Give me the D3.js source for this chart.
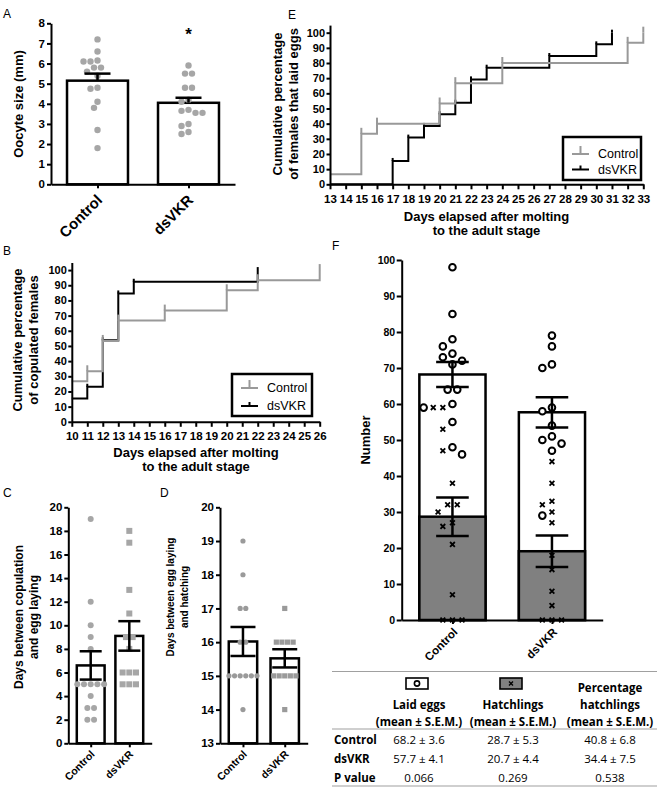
<!DOCTYPE html>
<html><head><meta charset="utf-8">
<script src="https://cdn.jsdelivr.net/npm/d3@7"></script>
<style>
body{margin:0;background:#fff;}
svg{display:block;}
</style></head><body>
<svg id="fig" width="660" height="788"></svg>
<script>
// ================= DATA =================
const groups = ["Control", "dsVKR"];

// Panel A – oocyte size (mm)
const oocyteTicks = [0, 1, 2, 3, 4, 5, 6, 7, 8];
const oocyteMean = [5.15, 4.05];
const oocyteSem = [0.35, 0.25];
const oocyteControl = [7.2, 6.6, 6.15, 6.1, 6.1, 5.8, 5.8, 5.6, 5.4, 4.8, 4.75, 4.1, 3.8, 2.7, 1.8];
const oocyteDsVKR = [5.9, 5.5, 5.5, 4.8, 4.8, 4.2, 4.1, 3.7, 3.65, 3.55, 3.55, 3.0, 2.9, 2.6, 2.5];
const oocyteSig = ["", "*"];

// Panel B – cumulative % of copulated females
const copDayTicks = [10, 11, 12, 13, 14, 15, 16, 17, 18, 19, 20, 21, 22, 23, 24, 25, 26];
const pctTicks = [0, 10, 20, 30, 40, 50, 60, 70, 80, 90, 100];
const copControlDays = [10, 11, 12, 13, 16, 20, 22, 26];
const copControlPct = [26.7, 33.3, 53.3, 66.7, 73.3, 86.7, 93.3, 100];
const copDsVKRDays = [10, 11, 12, 13, 14, 22];
const copDsVKRPct = [15.4, 23.1, 53.8, 84.6, 92.3, 100];

// Panel E – cumulative % of females that laid eggs
const layDayTicks = [13, 14, 15, 16, 17, 18, 19, 20, 21, 22, 23, 24, 25, 26, 27, 28, 29, 30, 31, 32, 33];
const layControlDays = [13, 15, 16, 20, 21, 24, 32, 33];
const layControlPct = [6.7, 33.3, 40, 53.3, 66.7, 80, 93.3, 100];
const layDsVKRDays = [13, 17, 18, 19, 20, 21, 22, 23, 27, 30, 31];
const layDsVKRPct = [0, 15.4, 30.8, 38.5, 46.2, 53.8, 69.2, 76.9, 84.6, 92.3, 100];

// Panel C – days between copulation and egg laying
const copLayTicks = [0, 2, 4, 6, 8, 10, 12, 14, 16, 18, 20];
const copLayMean = [6.6, 9.1];
const copLaySem = [1.2, 1.25];
const copLayControl = [19, 12, 10, 9, 8, 5, 5, 5, 5, 5, 4, 3, 3, 2, 2];
const copLayDsVKR = [18, 17, 13, 11, 9, 9, 8, 6, 6, 6, 5, 5, 5];

// Panel D – days between egg laying and hatching
const hatchDayTicks = [13, 14, 15, 16, 17, 18, 19, 20];
const hatchDayMean = [16.02, 15.52];
const hatchDaySem = [0.43, 0.27];
const hatchDayControl = [19, 18, 17, 17, 16, 16, 15, 15, 15, 15, 15, 15, 14];
const hatchDayDsVKR = [17, 16, 16, 16, 16, 15, 15, 15, 15, 15, 14];

// Panel F – laid eggs and hatchlings per female
const numberTicks = [0, 10, 20, 30, 40, 50, 60, 70, 80, 90, 100];
const eggsMean = [68.2, 57.7];
const eggsSem = [3.5, 4.2];
const hatchMean = [28.7, 19.1];
const hatchSem = [5.35, 4.35];
const eggsControl = [98, 85, 78, 76, 74, 73, 72, 71, 64, 64, 60, 59, 55, 48, 46];
const eggsDsVKR = [79, 76, 71, 70, 59, 58, 54, 51, 50, 49, 47, 29];
const hatchControl = [59, 59, 53, 47, 38, 32, 32, 30, 27, 26, 21, 7, 0, 0, 0];
const hatchDsVKR = [44, 38, 33, 32, 30, 27, 18, 14, 8, 4, 0, 0, 0];

// Table
const tableHeaders = [["Laid eggs", "(mean ± S.E.M.)"], ["Hatchlings", "(mean ± S.E.M.)"], ["Percentage", "hatchlings", "(mean ± S.E.M.)"]];
const tableRowLabels = ["Control", "dsVKR", "P value"];
const tableLaid = ["68.2 ± 3.6", "57.7 ± 4.1", "0.066"];
const tableHatch = ["28.7 ± 5.3", "20.7 ± 4.4", "0.269"];
const tablePct = ["40.8 ± 6.8", "34.4 ± 7.5", "0.538"];

// ================= DRAWING =================
const FONT = "'Liberation Sans', Arial, Helvetica, sans-serif";
const TFONT = "'Open Sans', 'Noto Sans', sans-serif";
const svg = d3.select("#fig").style("font-family", FONT);
const GREY_PT = "#a6a6a6";
const GREY_LINE = "#999999";
const fmtInt = d3.format("d");

function styleAxis(g, fs) {
  g.select(".domain").attr("stroke", "#000").attr("stroke-width", 2);
  g.selectAll(".tick line").attr("stroke", "#000").attr("stroke-width", 2);
  g.selectAll(".tick text").attr("fill", "#000")
    .style("font-size", fs + "px").style("font-weight", "bold").style("font-family", FONT);
}
function yAxis(x, y, ticks, fs, size = 4, pad = 2) {
  const g = svg.append("g").attr("transform", `translate(${x},0)`)
    .call(d3.axisLeft(y).tickValues(ticks).tickFormat(fmtInt).tickSize(size).tickSizeOuter(0).tickPadding(pad));
  styleAxis(g, fs); return g;
}
function xAxis(y0, x, ticks, fs, size = 5, pad = 6, showText = true) {
  const ax = d3.axisBottom(x).tickSize(size).tickSizeOuter(0).tickPadding(pad);
  if (ticks) ax.tickValues(ticks).tickFormat(fmtInt);
  if (!showText) ax.tickFormat(() => "");
  const g = svg.append("g").attr("transform", `translate(0,${y0})`).call(ax);
  styleAxis(g, fs); return g;
}
function yTitle(lines, xs, cy, fs) {
  lines.forEach((t, i) => svg.append("text")
    .attr("transform", `translate(${xs[i]},${cy}) rotate(-90)`)
    .attr("text-anchor", "middle").style("font-size", fs + "px").style("font-weight", "bold").text(t));
}
function xTitle(lines, cx, ys, fs) {
  lines.forEach((t, i) => svg.append("text").attr("x", cx).attr("y", ys[i])
    .attr("text-anchor", "middle").style("font-size", fs + "px").style("font-weight", "bold").text(t));
}
function letter(t, x, y) {
  svg.append("text").attr("x", x).attr("y", y).style("font-size", "12px").text(t);
}
function catLabels(x, y0, fs, dx, dy) {
  groups.forEach(gname => {
    const px = x(gname) + dx, py = y0 + dy;
    svg.append("text").attr("x", px).attr("y", py).attr("dy", "0.35em")
      .attr("transform", `rotate(-45,${px},${py})`).attr("text-anchor", "end")
      .style("font-size", fs + "px").style("font-weight", "bold").text(gname);
  });
}
// simple swarm: rows of equal values centred, shifted sideways to avoid collisions
function swarm(items, y, s) {
  const sorted = items.slice().sort((a, b) => b.v - a.v);
  const grouped = d3.groups(sorted, d => d.v);
  const placed = [];
  for (const [v, members] of grouped) {
    const n = members.length, py = y(v);
    let done = false;
    for (let k = 0; k < 60 && !done; k++) {
      const shifts = k === 0 ? [0] : [-k * s / 2, k * s / 2];
      for (const sh of shifts) {
        const xs = members.map((m, i) => (i - (n - 1) / 2) * s + sh);
        if (xs.every(px => placed.every(p => Math.hypot(p.x - px, p.y - py) >= s * 0.92))) {
          members.forEach((m, i) => { m.dx = xs[i]; m.py = py; placed.push({ x: xs[i], y: py }); });
          done = true; break;
        }
      }
    }
  }
  return sorted;
}
function errBar(g, cx, yTop, yBot, half, upperOnly) {
  g.append("line").attr("x1", cx).attr("x2", cx).attr("y1", yTop).attr("y2", yBot)
    .attr("stroke", "#000").attr("stroke-width", 2.5);
  g.append("line").attr("x1", cx - half).attr("x2", cx + half).attr("y1", yTop).attr("y2", yTop)
    .attr("stroke", "#000").attr("stroke-width", 2.5);
  if (!upperOnly) g.append("line").attr("x1", cx - half).attr("x2", cx + half).attr("y1", yBot).attr("y2", yBot)
    .attr("stroke", "#000").attr("stroke-width", 2.5);
}
function drawPoints(g, x, gname, pts, shape, r, color) {
  pts.forEach(p => {
    const cx = x(gname) + p.dx;
    if (shape === "circle") {
      g.append("circle").attr("cx", cx).attr("cy", p.py).attr("r", r).attr("fill", color);
    } else {
      g.append("rect").attr("x", cx - r).attr("y", p.py - r).attr("width", 2 * r).attr("height", 2 * r).attr("fill", color);
    }
  });
}
function barPanel(cfg) {
  const x = d3.scalePoint().domain(groups).range(cfg.xr).padding(cfg.pad);
  const y = d3.scaleLinear().domain(cfg.yd).range(cfg.yr);
  const w = x.step() * cfg.bw;
  const g = svg.append("g");
  groups.forEach((gn, i) => {
    g.append("rect").attr("x", x(gn) - w / 2).attr("width", w)
      .attr("y", y(cfg.means[i])).attr("height", y(cfg.yd[0]) - y(cfg.means[i]))
      .attr("fill", "#fff").attr("stroke", "#000").attr("stroke-width", 2.5);
  });
  groups.forEach((gn, i) => {
    const pts = swarm(cfg.pts[i].map(v => ({ v })), y, cfg.s);
    drawPoints(g, x, gn, pts, cfg.shapes[i], cfg.r, cfg.colors[i]);
  });
  groups.forEach((gn, i) => {
    errBar(g, x(gn), y(cfg.means[i] + cfg.sems[i]), cfg.upperOnly ? y(cfg.means[i]) : y(cfg.means[i] - cfg.sems[i]), cfg.cap, cfg.upperOnly);
  });
  yAxis(cfg.xr[0], y, cfg.ticks, cfg.tfs, 4, 2);
  xAxis(cfg.yr[0], x, null, cfg.tfs, 4, 2, false);
  catLabels(x, cfg.yr[0], cfg.lfs, cfg.ldx, cfg.ldy);
  return { x, y };
}

// ---------- Panel A ----------
letter("A", 3, 18);
const pA = barPanel({
  xr: [51, 235], pad: 0.511, yd: [0, 8], yr: [184.3, 23.3], bw: 0.67,
  means: oocyteMean, sems: oocyteSem, pts: [oocyteControl, oocyteDsVKR],
  shapes: ["circle", "circle"], colors: [GREY_PT, GREY_PT], r: 3.2, s: 7,
  cap: 13, upperOnly: true, ticks: oocyteTicks, tfs: 11.5, lfs: 15, ldx: 2, ldy: 13
});
groups.forEach((gn, i) => {
  if (!oocyteSig[i]) return;
  const top = d3.max(i === 0 ? oocyteControl : oocyteDsVKR);
  svg.append("text").attr("x", pA.x(gn)).attr("y", pA.y(top) - 26).attr("text-anchor", "middle")
    .style("font-size", "17px").style("font-weight", "bold").text(oocyteSig[i]);
});
yTitle(["Oocyte size (mm)"], [23], 104, 13);

// ---------- step-curve helper ----------
function stepCurve(g, x, y, days, pct, color, tick) {
  let d = `M${x(days[0])},${y(pct[0])}`;
  for (let i = 1; i < days.length; i++) d += `H${x(days[i])}V${y(pct[i])}`;
  g.append("path").attr("d", d).attr("fill", "none").attr("stroke", color)
    .attr("stroke-width", 2).attr("stroke-linejoin", "miter");
  for (let i = 1; i < days.length; i++) {
    g.append("line").attr("x1", x(days[i])).attr("x2", x(days[i]))
      .attr("y1", y(pct[i])).attr("y2", y(pct[i]) - tick)
      .attr("stroke", color).attr("stroke-width", 2);
  }
}
function legend(x0, y0, w, h, rows) {
  const g = svg.append("g");
  g.append("rect").attr("x", x0).attr("y", y0).attr("width", w).attr("height", h)
    .attr("fill", "#fff").attr("stroke", "#000").attr("stroke-width", 2.5);
  rows.forEach(r => {
    g.append("line").attr("x1", x0 + 9).attr("x2", x0 + 26).attr("y1", r.y).attr("y2", r.y)
      .attr("stroke", r.color).attr("stroke-width", 2);
    g.append("line").attr("x1", x0 + 17.5).attr("x2", x0 + 17.5).attr("y1", r.y).attr("y2", r.y - r.tick)
      .attr("stroke", r.color).attr("stroke-width", 2);
    g.append("text").attr("x", x0 + 35).attr("y", r.y + 4).style("font-size", "12.5px").text(r.label);
  });
}

// ---------- Panel E ----------
letter("E", 288, 19);
const xE = d3.scaleLinear().domain([13, 33]).range([330, 643.3]);
const yE = d3.scaleLinear().domain([0, 105]).range([184.3, 25.1]);
const gE = svg.append("g");
stepCurve(gE, xE, yE, layDsVKRDays, layDsVKRPct, "#000", 3);
stepCurve(gE, xE, yE, layControlDays, layControlPct, GREY_LINE, 6);
yAxis(330, yE, pctTicks, 11, 3.5, 1.5);
xAxis(184.3, xE, layDayTicks, 11.5, 5, 6);
legend(563, 137, 78, 43, [
  { y: 154, color: GREY_LINE, tick: 8, label: groups[0] },
  { y: 169.5, color: "#000", tick: 4, label: groups[1] }
]);
yTitle(["Cumulative percentage", "of females that laid eggs"], [281.5, 297.5], 104, 13);
xTitle(["Days elapsed after molting", "to the adult stage"], 486.5, [221, 235], 13);

// ---------- Panel B ----------
letter("B", 3, 255);
const xB = d3.scaleLinear().domain([10, 26]).range([71.8, 319.7]);
const yB = d3.scaleLinear().domain([0, 105]).range([421.8, 262.5]);
const gB = svg.append("g");
stepCurve(gB, xB, yB, copDsVKRDays, copDsVKRPct, "#000", 3);
stepCurve(gB, xB, yB, copControlDays, copControlPct, GREY_LINE, 6);
yAxis(71.8, yB, pctTicks, 11, 3.5, 1.5);
xAxis(421.8, xB, copDayTicks, 11.5, 5, 5);
legend(232, 374, 80, 42, [
  { y: 388, color: GREY_LINE, tick: 8, label: groups[0] },
  { y: 406, color: "#000", tick: 4, label: groups[1] }
]);
yTitle(["Cumulative percentage", "of copulated females"], [21.5, 37.5], 340, 13);
xTitle(["Days elapsed after molting", "to the adult stage"], 196, [457, 471], 13);

// ---------- Panel C ----------
letter("C", 3, 497);
barPanel({
  xr: [68.3, 151.7], pad: 0.58, yd: [0, 20], yr: [743.3, 507.3], bw: 0.72,
  means: copLayMean, sems: copLaySem, pts: [copLayControl, copLayDsVKR],
  shapes: ["circle", "square"], colors: [GREY_PT, GREY_PT], r: 3, s: 6.7,
  cap: 11, upperOnly: false, ticks: copLayTicks, tfs: 11.5, lfs: 10.5, ldx: 2, ldy: 9
});
yTitle(["Days between copulation", "and egg laying"], [22.5, 37.5], 617, 12);

// ---------- Panel D ----------
letter("D", 160, 497);
barPanel({
  xr: [220, 307.7], pad: 0.55, yd: [13, 20], yr: [743.3, 507.3], bw: 0.68,
  means: hatchDayMean, sems: hatchDaySem, pts: [hatchDayControl, hatchDayDsVKR],
  shapes: ["circle", "square"], colors: ["#9a9a9a", "#9a9a9a"], r: 2.6, s: 5.6,
  cap: 12.5, upperOnly: false, ticks: hatchDayTicks, tfs: 11.5, lfs: 10.5, ldx: 2, ldy: 9
});
yTitle(["Days between egg laying", "and hatching"], [174, 188], 597, 10);

// ---------- Panel F ----------
letter("F", 332, 250);
(function () {
  const x = d3.scalePoint().domain(groups).range([401.7, 602.7]).padding(0.51);
  const y = d3.scaleLinear().domain([0, 100]).range([620, 260]);
  const w = x.step() * 0.665;
  const g = svg.append("g");
  const eggs = [eggsControl, eggsDsVKR], hatch = [hatchControl, hatchDsVKR];
  groups.forEach((gn, i) => {
    g.append("rect").attr("x", x(gn) - w / 2).attr("width", w).attr("y", y(eggsMean[i]))
      .attr("height", y(0) - y(eggsMean[i])).attr("fill", "#fff").attr("stroke", "#000").attr("stroke-width", 2.5);
    g.append("rect").attr("x", x(gn) - w / 2).attr("width", w).attr("y", y(hatchMean[i]))
      .attr("height", y(0) - y(hatchMean[i])).attr("fill", "#808080").attr("stroke", "#000").attr("stroke-width", 2.5);
  });
  groups.forEach((gn, i) => {
    const items = eggs[i].map(v => ({ v, shape: "o" })).concat(hatch[i].map(v => ({ v, shape: "x" })));
    const pts = swarm(items, y, 9.6);
    pts.forEach(p => {
      const cx = x(gn) + p.dx;
      if (p.shape === "o") {
        g.append("circle").attr("cx", cx).attr("cy", p.py).attr("r", 3.3)
          .attr("fill", "#fff").attr("stroke", "#000").attr("stroke-width", 2);
      } else {
        const a = 2.4;
        g.append("path").attr("d", `M${cx - a},${p.py - a}L${cx + a},${p.py + a}M${cx - a},${p.py + a}L${cx + a},${p.py - a}`)
          .attr("stroke", "#000").attr("stroke-width", 1.8);
      }
    });
  });
  groups.forEach((gn, i) => {
    errBar(g, x(gn), y(eggsMean[i] + eggsSem[i]), y(eggsMean[i] - eggsSem[i]), 16.3, false);
    errBar(g, x(gn), y(hatchMean[i] + hatchSem[i]), y(hatchMean[i] - hatchSem[i]), 16.3, false);
  });
  yAxis(401.7, y, numberTicks, 10.5, 5, 1.5);
  xAxis(620, x, null, 10.5, 4, 2, false);
  catLabels(x, 620, 11.5, 3, 10);
  yTitle(["Number"], [370], 440, 13);
})();

// ---------- Table ----------
(function () {
  const g = svg.append("g").style("font-family", TFONT);
  const colX = [419, 513, 610];
  const x0 = 332, x1 = 657;
  [671.5, 729, 786].forEach(yy => g.append("line").attr("x1", x0).attr("x2", x1).attr("y1", yy).attr("y2", yy)
    .attr("stroke", "#a0a0a0").attr("stroke-width", 1.2));
  const icons = [{ fill: "#fff", mark: "o" }, { fill: "#808080", mark: "x" }];
  icons.forEach((ic, i) => {
    const cx = colX[i] - 2, cy = 683.5;
    g.append("rect").attr("x", cx - 11).attr("y", cy - 5.5).attr("width", 22).attr("height", 11)
      .attr("fill", ic.fill).attr("stroke", "#000").attr("stroke-width", 1.6);
    if (ic.mark === "o") g.append("circle").attr("cx", cx).attr("cy", cy).attr("r", 2.6)
      .attr("fill", "none").attr("stroke", "#000").attr("stroke-width", 1.6);
    else g.append("path").attr("d", `M${cx - 2},${cy - 2}L${cx + 2},${cy + 2}M${cx - 2},${cy + 2}L${cx + 2},${cy - 2}`)
      .attr("stroke", "#000").attr("stroke-width", 1.4);
  });
  tableHeaders.forEach((lines, i) => {
    const base = lines.length === 3 ? [692, 709, 726] : [709, 726];
    lines.forEach((t, j) => g.append("text").attr("x", colX[i]).attr("y", base[j]).attr("text-anchor", "middle")
      .style("font-size", "11.5px").style("font-weight", "bold").text(t));
  });
  const rowY = [744, 762.5, 781.5];
  tableRowLabels.forEach((t, r) => {
    g.append("text").attr("x", 334).attr("y", rowY[r]).style("font-size", "11.5px").style("font-weight", "bold").text(t);
    [tableLaid, tableHatch, tablePct].forEach((col, c) => g.append("text").attr("x", colX[c]).attr("y", rowY[r])
      .attr("text-anchor", "middle").style("font-size", "11.5px").text(col[r]));
  });
})();
</script>
</body></html>
